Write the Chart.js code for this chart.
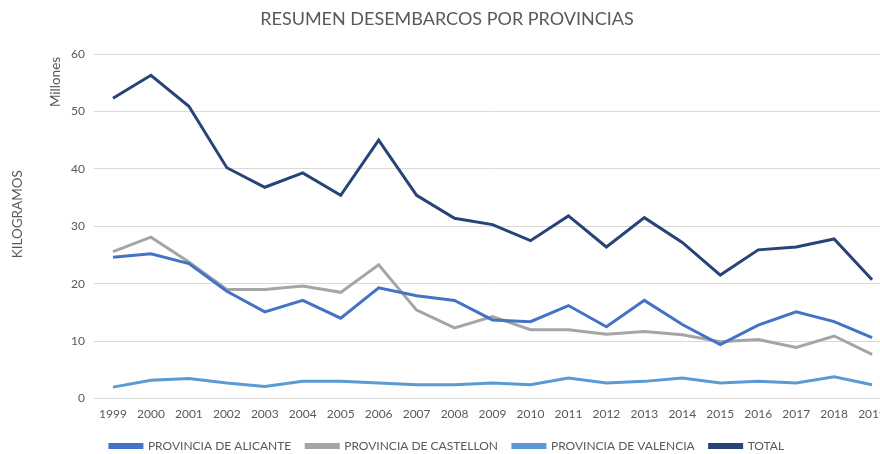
<!DOCTYPE html>
<html>
<head>
<meta charset="utf-8">
<script src="https://cdn.jsdelivr.net/npm/chart.js@4.4.1/dist/chart.umd.min.js"></script>
<style>
  html, body { margin: 0; padding: 0; background: #fff; overflow: hidden; width: 880px; height: 454px; }
  #wrap { width: 880px; height: 454px; overflow: hidden; position: relative; }
  canvas { display: block; }
</style>
</head>
<body>
<div id="wrap"><canvas id="c" width="894" height="462"></canvas></div>
<script>
const years = ['1999','2000','2001','2002','2003','2004','2005','2006','2007','2008','2009','2010','2011','2012','2013','2014','2015','2016','2017','2018','2019'];
const alicante  = [24.6, 25.2, 23.5, 18.7, 15.1, 17.1, 14.0, 19.3, 17.9, 17.1, 13.7, 13.4, 16.2, 12.5, 17.1, 12.9, 9.4, 12.8, 15.1, 13.4, 10.6];
const castellon = [25.6, 28.1, 23.8, 19.0, 19.0, 19.6, 18.5, 23.3, 15.4, 12.3, 14.3, 12.0, 12.0, 11.2, 11.7, 11.1, 9.9, 10.3, 8.9, 10.9, 7.7];
const valencia  = [2.0, 3.2, 3.5, 2.7, 2.1, 3.0, 3.0, 2.7, 2.4, 2.4, 2.7, 2.4, 3.6, 2.7, 3.0, 3.6, 2.7, 3.0, 2.7, 3.8, 2.4];
const total     = [52.3, 56.3, 50.9, 40.2, 36.8, 39.3, 35.4, 45.0, 35.4, 31.4, 30.3, 27.5, 31.8, 26.4, 31.5, 27.2, 21.5, 25.9, 26.4, 27.8, 20.7];
const yTicks = [0, 10, 20, 30, 40, 50, 60];
const seriesNames = ['PROVINCIA DE ALICANTE', 'PROVINCIA DE CASTELLON', 'PROVINCIA DE VALENCIA', 'TOTAL'];
const titleText = 'RESUMEN DESEMBARCOS POR PROVINCIAS';
const yAxisTitle = 'KILOGRAMOS';
const unitLabel = 'Millones';

const FONT = 'Lato, "Open Sans", sans-serif';
const TXT = '#595959';

const sideLabels = {
  id: 'sideLabels',
  afterDraw(chart) {
    const ctx = chart.ctx;
    const ca = chart.chartArea;
    ctx.save();
    ctx.fillStyle = TXT;
    ctx.textAlign = 'center';
    ctx.textBaseline = 'middle';
    // axis title
    ctx.save();
    ctx.translate(17.5, ca.top + (ca.bottom - ca.top) * 0.465);
    ctx.rotate(-Math.PI / 2);
    ctx.font = '13.5px ' + FONT;
    ctx.fillText(yAxisTitle, 0, 0);
    ctx.restore();
    // display unit
    ctx.save();
    ctx.translate(56, ca.top + 28);
    ctx.rotate(-Math.PI / 2);
    ctx.font = '13.5px ' + FONT;
    ctx.fillText(unitLabel, 0, 0);
    ctx.restore();
    ctx.restore();
  }
};

const colors = ['#4472C4', '#A5A5A5', '#5B9BD5', '#264478'];
const dataArr = [alicante, castellon, valencia, total];

new Chart(document.getElementById('c'), {
  type: 'line',
  data: {
    labels: years,
    datasets: dataArr.map((d, i) => ({
      label: seriesNames[i],
      data: d,
      borderColor: colors[i],
      backgroundColor: colors[i],
      borderWidth: 3,
      pointRadius: 0,
      tension: 0,
      fill: false
    }))
  },
  options: {
    responsive: false,
    animation: false,
    layout: { padding: 0 },
    plugins: {
      title: {
        display: true,
        text: titleText,
        color: TXT,
        font: { family: FONT, size: 18, weight: 'normal' },
        padding: { top: 8, bottom: 24.4 }
      },
      legend: {
        position: 'bottom',
        labels: {
          color: TXT,
          font: { family: FONT, size: 12 },
          boxWidth: 32,
          boxHeight: 3,
          padding: 15
        }
      },
      tooltip: { enabled: false }
    },
    scales: {
      x: {
        offset: true,
        grid: { display: false, drawTicks: false },
        border: { display: false },
        ticks: { color: TXT, font: { family: FONT, size: 12 }, padding: 8, maxRotation: 0, autoSkip: false },
        afterFit(scale) { scale.height -= 4; }
      },
      y: {
        min: 0,
        max: 60,
        afterBuildTicks(scale) { scale.ticks = yTicks.map(v => ({ value: v })); },
        grid: { color: '#D9D9D9', lineWidth: 1, drawTicks: false },
        border: { display: false },
        ticks: { color: TXT, font: { family: FONT, size: 12 }, padding: 9 },
        afterFit(scale) { scale.width = 94; }
      }
    }
  },
  plugins: [sideLabels]
});
</script>
</body>
</html>
